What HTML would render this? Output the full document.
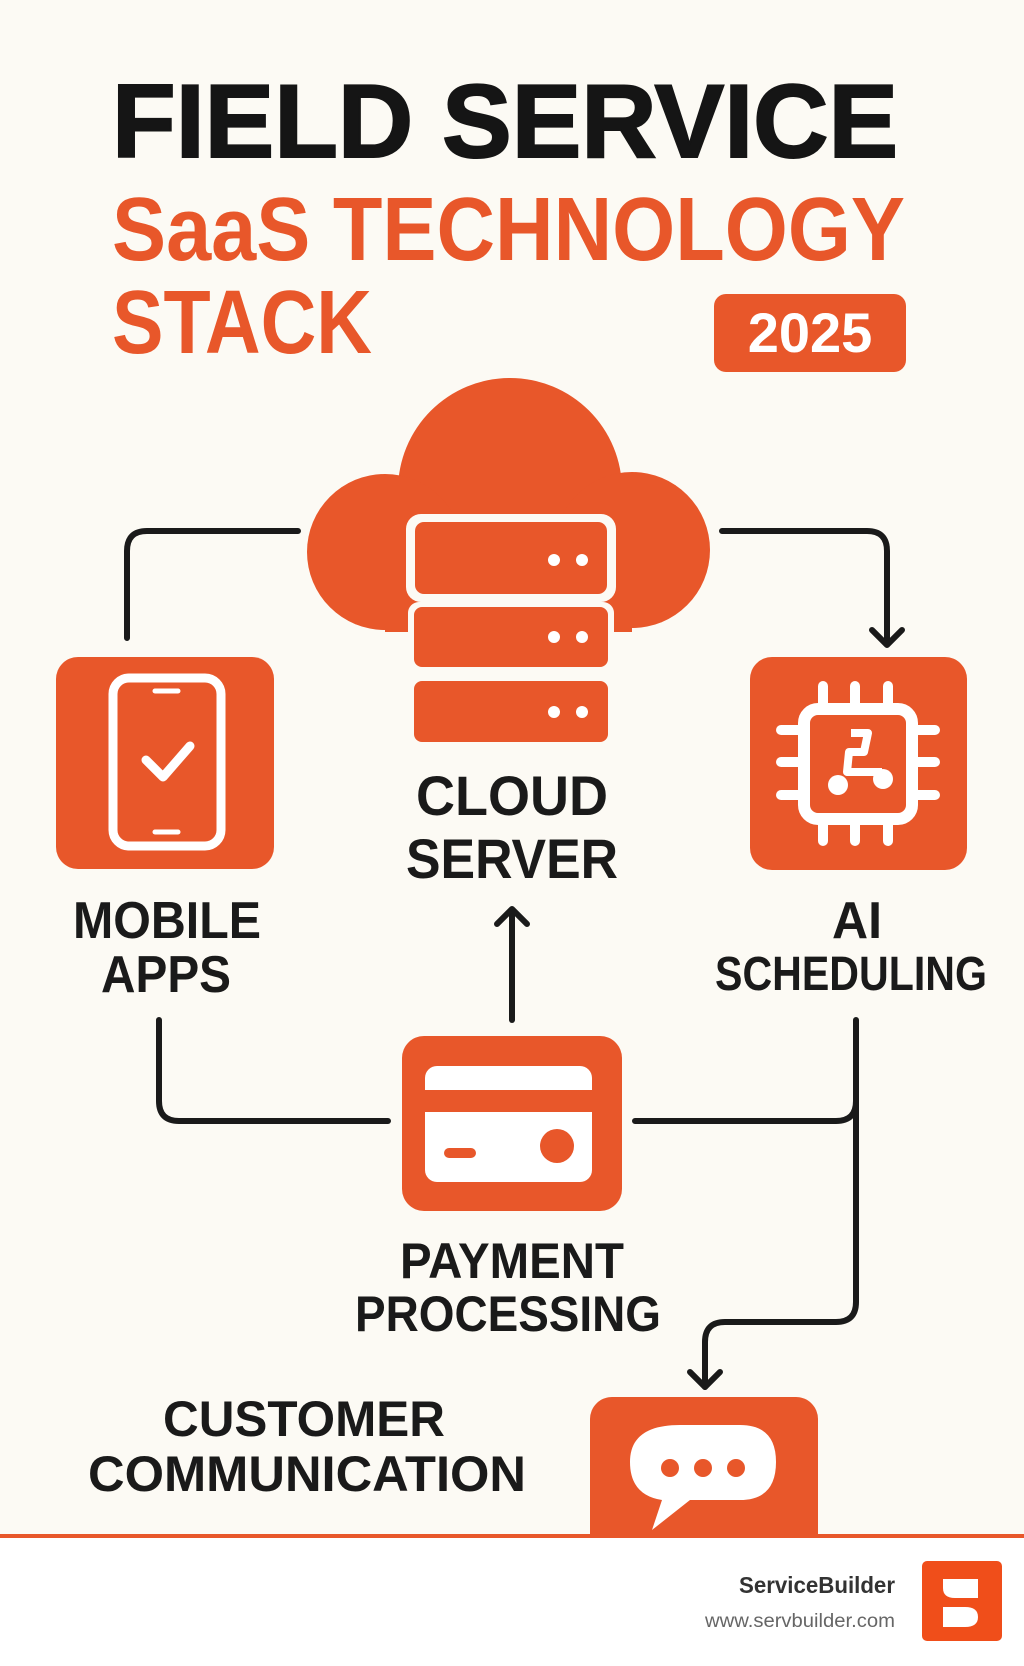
<!DOCTYPE html>
<html><head><meta charset="utf-8"><style>
html,body{margin:0;padding:0;background:#fcfaf4;}
svg{display:block;}
text{font-family:"Liberation Sans",sans-serif;font-weight:bold;}
</style></head><body>
<svg width="1024" height="1666" viewBox="0 0 1024 1666" xmlns="http://www.w3.org/2000/svg">
<rect width="1024" height="1666" fill="#fcfaf4"/>
<!-- titles -->
<text x="112" y="157" font-size="104" fill="#151515" textLength="786" lengthAdjust="spacingAndGlyphs" stroke="#151515" stroke-width="2">FIELD SERVICE</text>
<text x="112" y="260" font-size="90" fill="#e8572a" textLength="793" lengthAdjust="spacingAndGlyphs">SaaS TECHNOLOGY</text>
<text x="112" y="353" font-size="90" fill="#e8572a" textLength="260" lengthAdjust="spacingAndGlyphs">STACK</text>
<rect x="714" y="294" width="192" height="78" rx="12" fill="#e8572a"/>
<text x="810" y="352" font-size="56" fill="#fff" text-anchor="middle">2025</text>

<!-- connectors -->
<g fill="none" stroke="#1a1a1a" stroke-width="6" stroke-linecap="round" stroke-linejoin="round">
<path d="M127 638 V551 Q127 531 147 531 H298"/>
<path d="M722 531 H867 Q887 531 887 551 V644"/>
<path d="M872 630 L887 645 L902 630"/>
<path d="M512 1020 V910"/>
<path d="M497 924 L512 909 L527 924"/>
<path d="M159 1020 V1101 Q159 1121 179 1121 H388"/>
<path d="M635 1121 H836 Q856 1121 856 1101"/>
<path d="M856 1020 V1302 Q856 1322 836 1322 H725 Q705 1322 705 1342 V1387"/>
<path d="M690 1372 L705 1387 L720 1372"/>
</g>

<!-- cloud -->
<g fill="#e8572a">
<circle cx="510" cy="490" r="112"/>
<circle cx="385" cy="552" r="78"/>
<circle cx="632" cy="550" r="78"/>
<rect x="385" y="540" width="247" height="92"/>
</g>
<rect x="406" y="514" width="210" height="88" rx="15" fill="#fcfaf4"/>
<rect x="415" y="522" width="192" height="72" rx="9" fill="#e8572a"/>
<rect x="408" y="602" width="206" height="70" rx="11" fill="#fcfaf4"/>
<rect x="414" y="607" width="194" height="60" rx="8" fill="#e8572a"/>
<rect x="414" y="681" width="194" height="61" rx="8" fill="#e8572a"/>
<g fill="#fff">
<circle cx="554" cy="560" r="6"/><circle cx="582" cy="560" r="6"/>
<circle cx="554" cy="637" r="6"/><circle cx="582" cy="637" r="6"/>
<circle cx="554" cy="712" r="6"/><circle cx="582" cy="712" r="6"/>
</g>
<text x="512" y="815" font-size="56" fill="#1a1a1a" text-anchor="middle" textLength="192" lengthAdjust="spacingAndGlyphs">CLOUD</text>
<text x="512" y="878" font-size="56" fill="#1a1a1a" text-anchor="middle" textLength="212" lengthAdjust="spacingAndGlyphs">SERVER</text>

<!-- mobile -->
<rect x="56" y="657" width="218" height="212" rx="22" fill="#e8572a"/>
<rect x="113" y="678" width="108" height="168" rx="16" fill="none" stroke="#fff" stroke-width="9"/>
<line x1="155" y1="691" x2="178" y2="691" stroke="#fff" stroke-width="5" stroke-linecap="round"/>
<line x1="155" y1="832" x2="178" y2="832" stroke="#fff" stroke-width="5" stroke-linecap="round"/>
<path d="M146 760 L163 777 L190 746" fill="none" stroke="#fff" stroke-width="9" stroke-linecap="round" stroke-linejoin="round"/>
<text x="167" y="938" font-size="52" fill="#1a1a1a" text-anchor="middle" textLength="188" lengthAdjust="spacingAndGlyphs">MOBILE</text>
<text x="166" y="992" font-size="52" fill="#1a1a1a" text-anchor="middle" textLength="130" lengthAdjust="spacingAndGlyphs">APPS</text>

<!-- AI -->
<rect x="750" y="657" width="217" height="213" rx="22" fill="#e8572a"/>
<rect x="804" y="709" width="108" height="110" rx="14" fill="none" stroke="#fff" stroke-width="12"/>
<g stroke="#fff" stroke-width="10" stroke-linecap="round">
<line x1="823" y1="686" x2="823" y2="703"/><line x1="855" y1="686" x2="855" y2="703"/><line x1="888" y1="686" x2="888" y2="703"/>
<line x1="823" y1="825" x2="823" y2="841"/><line x1="855" y1="825" x2="855" y2="841"/><line x1="888" y1="825" x2="888" y2="841"/>
<line x1="781" y1="730" x2="798" y2="730"/><line x1="781" y1="762" x2="798" y2="762"/><line x1="781" y1="795" x2="798" y2="795"/>
<line x1="918" y1="730" x2="935" y2="730"/><line x1="918" y1="762" x2="935" y2="762"/><line x1="918" y1="795" x2="935" y2="795"/>
</g>
<path d="M851 733 H868 L864 752 H849 L847 772 H882" fill="none" stroke="#fff" stroke-width="8" stroke-linejoin="round"/>
<circle cx="838" cy="785" r="10" fill="#fff"/><circle cx="883" cy="779" r="10" fill="#fff"/>
<text x="857" y="938" font-size="52" fill="#1a1a1a" text-anchor="middle" textLength="50" lengthAdjust="spacingAndGlyphs">AI</text>
<text x="851" y="990" font-size="48" fill="#1a1a1a" text-anchor="middle" textLength="272" lengthAdjust="spacingAndGlyphs">SCHEDULING</text>

<!-- payment -->
<rect x="402" y="1036" width="220" height="175" rx="22" fill="#e8572a"/>
<rect x="425" y="1066" width="167" height="116" rx="12" fill="#fff"/>
<rect x="425" y="1090" width="167" height="22" fill="#e8572a"/>
<rect x="444" y="1148" width="32" height="10" rx="5" fill="#e8572a"/>
<circle cx="557" cy="1146" r="17" fill="#e8572a"/>
<text x="512" y="1278" font-size="50" fill="#1a1a1a" text-anchor="middle" textLength="224" lengthAdjust="spacingAndGlyphs">PAYMENT</text>
<text x="508" y="1331" font-size="50" fill="#1a1a1a" text-anchor="middle" textLength="306" lengthAdjust="spacingAndGlyphs">PROCESSING</text>

<!-- customer -->
<rect x="590" y="1397" width="228" height="160" rx="22" fill="#e8572a"/>
<path d="M680 1425 H740 Q776 1425 776 1462 Q776 1500 740 1500 H690 L652 1530 L662 1500 Q630 1495 630 1462 Q630 1425 680 1425 Z" fill="#fff"/>
<circle cx="670" cy="1468" r="9" fill="#e8572a"/><circle cx="703" cy="1468" r="9" fill="#e8572a"/><circle cx="736" cy="1468" r="9" fill="#e8572a"/>
<text x="304" y="1436" font-size="50" fill="#1a1a1a" text-anchor="middle" textLength="282" lengthAdjust="spacingAndGlyphs">CUSTOMER</text>
<text x="307" y="1491" font-size="50" fill="#1a1a1a" text-anchor="middle" textLength="438" lengthAdjust="spacingAndGlyphs">COMMUNICATION</text>

<rect x="0" y="1537" width="1024" height="129" fill="#fff"/>
<rect x="0" y="1534" width="1024" height="4" fill="#e8572a"/>

<!-- footer -->
<text x="895" y="1593" font-size="23" fill="#333" text-anchor="end" textLength="156" lengthAdjust="spacingAndGlyphs">ServiceBuilder</text>
<text x="895" y="1627" font-size="19" fill="#666" text-anchor="end" style="font-weight:normal" textLength="190" lengthAdjust="spacingAndGlyphs">www.servbuilder.com</text>
<rect x="922" y="1561" width="80" height="80" rx="5" fill="#f04e1a"/>
<path d="M943 1579 H978 V1598 H955 Q943 1598 943 1588 Z" fill="#fff"/>
<path d="M943 1607 H965 Q978 1607 978 1617 Q978 1627 965 1627 H943 Z" fill="#fff"/>
</svg>
</body></html>
